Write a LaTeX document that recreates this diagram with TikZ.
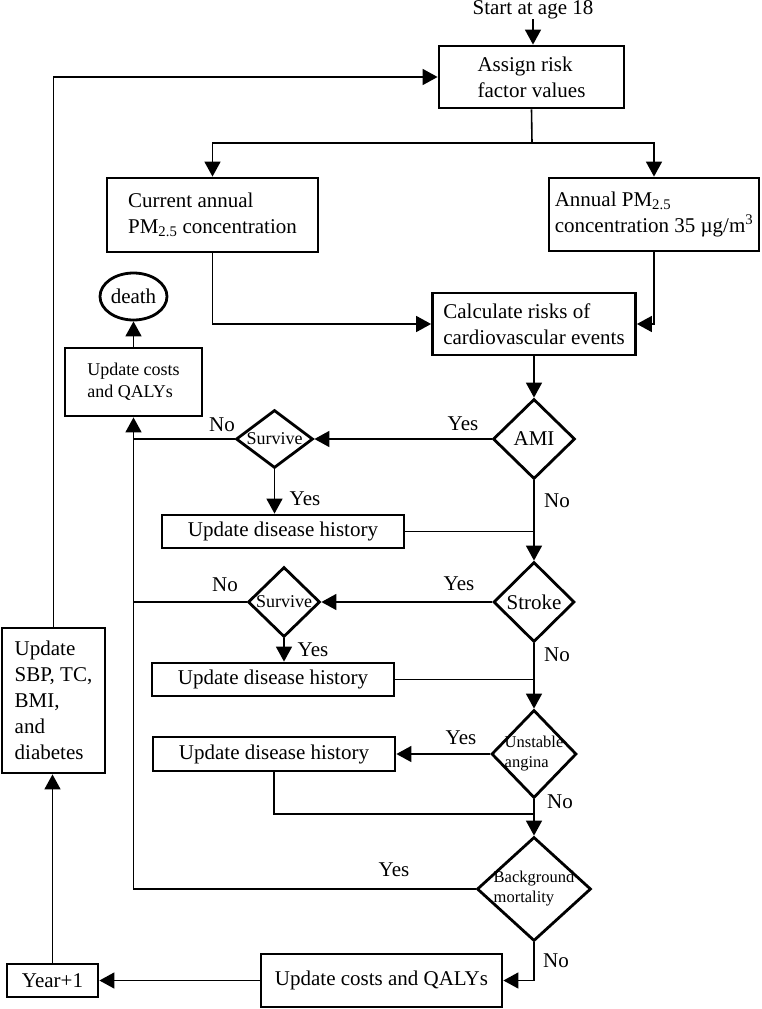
\documentclass[tikz,border=0pt]{standalone}
\usepackage{fontspec}
\setmainfont{Liberation Serif}
\usetikzlibrary{arrows.meta,shapes.geometric}
\tikzset{
  box/.style={draw,line width=2.8pt,rectangle,inner sep=0pt,align=left,font=\fontsize{21}{26}\selectfont},
  dia/.style={draw,line width=2.8pt,diamond,inner sep=0pt},
  txt/.style={inner sep=0pt,font=\fontsize{21}{26}\selectfont},
  small/.style={inner sep=0pt,align=center,font=\fontsize{18}{22}\selectfont},
  tiny/.style={inner sep=0pt,align=left,font=\fontsize{16.5}{20}\selectfont},
  conn/.style={line width=1.6pt},
  arr/.style={conn,-{Triangle[length=15pt,width=16pt]}},
}
\begin{document}
\begin{tikzpicture}[x=1pt,y=-1pt]
\useasboundingbox (0,0) rectangle (761,1009);
% nodes
\node[txt] (start) at (533,10) {Start at age 18};
\node[box,minimum width=185,minimum height=62] (assign) at (531.5,77) {Assign risk\\factor values};
\coordinate (j1) at (532,143);
\node[box,minimum width=211,minimum height=74] (current) at (212.5,215) {Current annual\\PM\textsubscript{2.5} concentration};
\node[box,minimum width=210,minimum height=73] (annual) at (654,214.5) {Annual PM\textsubscript{2.5}\\concentration 35 µg/m\textsuperscript{3}};
\node[box,minimum width=203,minimum height=62] (calc) at (534,324) {Calculate risks of\\cardiovascular events};
\node[draw,line width=2.8pt,ellipse,minimum width=67,minimum height=47,inner sep=0pt,font=\fontsize{21}{26}\selectfont] (death) at (133.5,296.5) {death};
\node[box,minimum width=137,minimum height=68,font=\fontsize{18}{22}\selectfont] (uc1) at (133.5,382) {Update costs\\and QALYs};
% AMI row
\node[dia,minimum width=82,minimum height=80] (ami) at (534,439) {};
\node[txt] (amit) at (ami) {AMI};
\node[dia,minimum width=77,minimum height=58] (s1) at (274.5,439) {};
\node[small] (s1t) at (s1) {Survive};
\node[box,minimum width=242,minimum height=33] (udh1) at (283,531.5) {Update disease history};
% Stroke row
\node[dia,minimum width=81,minimum height=80] (stroke) at (534,602) {};
\node[txt] (stroket) at (stroke) {Stroke};
\node[dia,minimum width=72,minimum height=70] (s2) at (284,602) {};
\node[small] (s2t) at (s2) {Survive};
\node[box,minimum width=242,minimum height=33] (udh2) at (273,679.5) {Update disease history};
% Unstable angina
\node[dia,minimum width=85,minimum height=88] (ua) at (534,754) {};
\node[tiny] (uat) at (ua) {Unstable\\angina};
\node[box,minimum width=242,minimum height=34] (udh3) at (274,754) {Update disease history};
\coordinate (j3) at (534,814);
% Background mortality
\node[dia,minimum width=114,minimum height=104] (bg) at (534,889) {};
\node[tiny] (bgt) at (bg) {Background\\mortality};
% bottom row
\node[box,minimum width=241,minimum height=53] (uc2) at (381.5,980.5) {Update costs and QALYs};
\node[box,minimum width=91,minimum height=33] (year) at (52.5,980.5) {Year+1};
\node[box,minimum width=103,minimum height=145] (sbp) at (53.5,700.5) {Update\\SBP, TC,\\BMI,\\and\\diabetes};
% connectors
\draw[arr] (start.south) -- (start.south |- assign.north);
\draw[conn] (assign.south) -- (j1);
\draw[arr] (j1) -| (current.north);
\draw[arr] (j1) -| (annual.north);
\draw[arr] (current.south) |- (calc.west);
\draw[arr] (annual.south) |- (calc.east);
\draw[arr] (calc.south) -- (ami.north);
\draw[arr] (ami.west) -- (s1.east);
\draw[arr] (s1.south) -- (s1.south |- udh1.north);
\draw[conn] (udh1.east) -- (udh1.east -| ami.south);
\draw[arr] (ami.south) -- (stroke.north);
\draw[arr] (stroke.west) -- (s2.east);
\draw[arr] (s2.south) -- (s2.south |- udh2.north);
\draw[conn] (udh2.east) -- (udh2.east -| stroke.south);
\draw[arr] (stroke.south) -- (ua.north);
\draw[arr] (ua.west) -- (udh3.east);
\draw[conn] (udh3.south) |- (j3);
\draw[arr] (ua.south) -- (bg.north);
\draw[arr] (bg.west) -| (uc1.south);
\draw[conn] (s1.west) -- (s1.west -| uc1.south);
\draw[conn] (s2.west) -- (s2.west -| uc1.south);
\draw[arr] (uc1.north) -- (death.south);
\draw[arr] (bg.south) |- (uc2.east);
\draw[arr] (uc2.west) -- (year.east);
\draw[arr] (year.north) -- (year.north |- sbp.south);
\draw[arr] (sbp.north) |- (assign.west);
% labels
\node[txt] (l1) at (463,424) {Yes};
\node[txt] (l2) at (222,425) {No};
\node[txt] (l3) at (305,499) {Yes};
\node[txt] (l4) at (557,501) {No};
\node[txt] (l5) at (459,584) {Yes};
\node[txt] (l6) at (225,585) {No};
\node[txt] (l7) at (313,650) {Yes};
\node[txt] (l8) at (557,655) {No};
\node[txt] (l9) at (461,738) {Yes};
\node[txt] (l10) at (560,802) {No};
\node[txt] (l11) at (394,870) {Yes};
\node[txt] (l12) at (556,961) {No};
\end{tikzpicture}
\end{document}
